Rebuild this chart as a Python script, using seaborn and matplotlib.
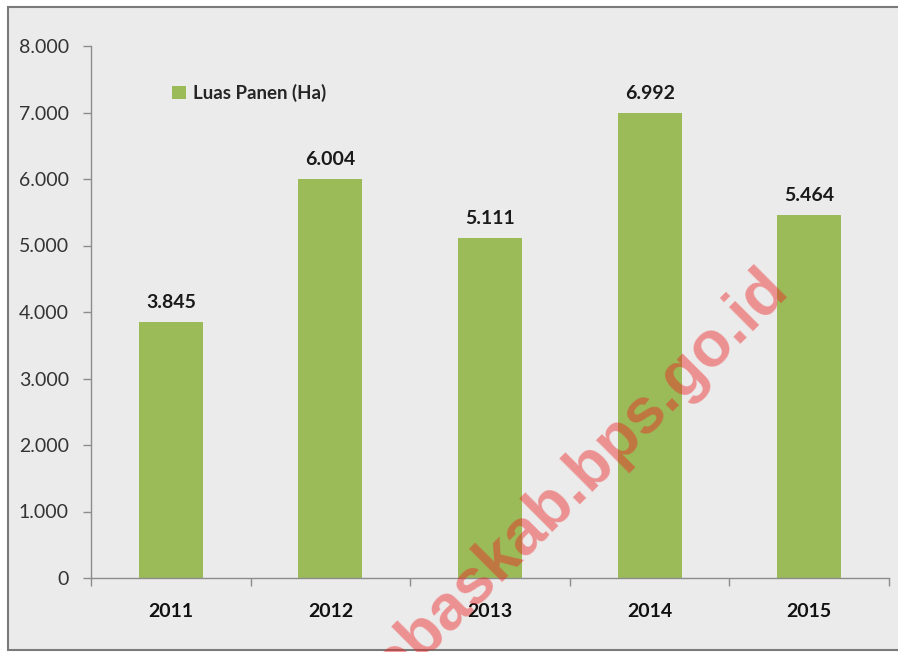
import matplotlib

matplotlib.use("Agg")
import matplotlib.pyplot as plt
import pandas as pd
import seaborn as sns
from matplotlib.patches import Rectangle
from matplotlib.ticker import FuncFormatter

# data
years = ["2011", "2012", "2013", "2014", "2015"]
luas_panen = [3845, 6004, 5111, 6992, 5464]
series_name = "Luas Panen (Ha)"
watermark = "lebaskab.bps.go.id"

BAR = "#9BBB59"
BG = "#ebebeb"


def fmt_id(v, _pos=None):
    # Indonesian style thousands separator
    return f"{int(round(v)):,}".replace(",", ".")


df = pd.DataFrame({"tahun": years, "luas": luas_panen})

sns.set_theme(style="white")
plt.rcParams["font.family"] = ["Lato", "DejaVu Sans"]

fig = plt.figure(figsize=(8.98, 6.52), dpi=100)
fig.patch.set_facecolor("white")

# panel with border (right side runs off the image)
fig.patches.append(
    Rectangle((8 / 898, 2 / 652), 1.0, 643 / 652, transform=fig.transFigure,
              facecolor=BG, edgecolor="#7a7a7a", linewidth=1.5, zorder=-1)
)

ax = fig.add_axes([91 / 898, 1 - 578 / 652, 798 / 898, 532 / 652])
ax.set_facecolor("none")

sns.barplot(data=df, x="tahun", y="luas", color=BAR, saturation=1,
            width=0.4, label=series_name, linewidth=0, ax=ax)

ax.set_xlim(-0.5, len(years) - 0.5)
ax.set_ylim(0, 8000)
ax.set_yticks(range(0, 8001, 1000))
ax.yaxis.set_major_formatter(FuncFormatter(fmt_id))
ax.set_xlabel("")
ax.set_ylabel("")

for s in ["top", "right"]:
    ax.spines[s].set_visible(False)
for s in ["left", "bottom"]:
    ax.spines[s].set_color("#8c8c8c")
    ax.spines[s].set_linewidth(1.0)

ax.tick_params(axis="y", length=6, width=1, color="#8c8c8c", pad=10,
               labelsize=14, labelcolor="#333333", left=True)
ax.tick_params(axis="x", which="major", length=0, pad=18, labelsize=14,
               labelcolor="#111111")
ax.set_xticks([i - 0.5 for i in range(len(years) + 1)], minor=True)
ax.tick_params(axis="x", which="minor", length=6, width=1, color="#8c8c8c",
               bottom=True)
for lab in ax.get_xticklabels():
    lab.set_fontweight("bold")

# value labels
for i, v in enumerate(luas_panen):
    ax.annotate(fmt_id(v), (i, v), xytext=(0, 8), textcoords="offset points",
                ha="center", va="bottom", fontsize=14, fontweight="bold",
                color="#1a1a1a")

ax.legend(loc="center left", bbox_to_anchor=(163 / 898, 1 - 93 / 652),
          bbox_transform=fig.transFigure, frameon=False, borderpad=0,
          handlelength=0.7, handleheight=0.7, handletextpad=0.4,
          prop={"weight": "bold", "size": 13.5})

# site watermark
fig.text(790 / 898, 1 - 290 / 652, watermark, rotation=45,
         rotation_mode="anchor", ha="right", va="baseline",
         family="Liberation Sans", fontweight="bold", fontsize=46,
         color="#ee2222", alpha=0.45, zorder=10)

fig.savefig("out.png", dpi=100, facecolor=fig.get_facecolor())
